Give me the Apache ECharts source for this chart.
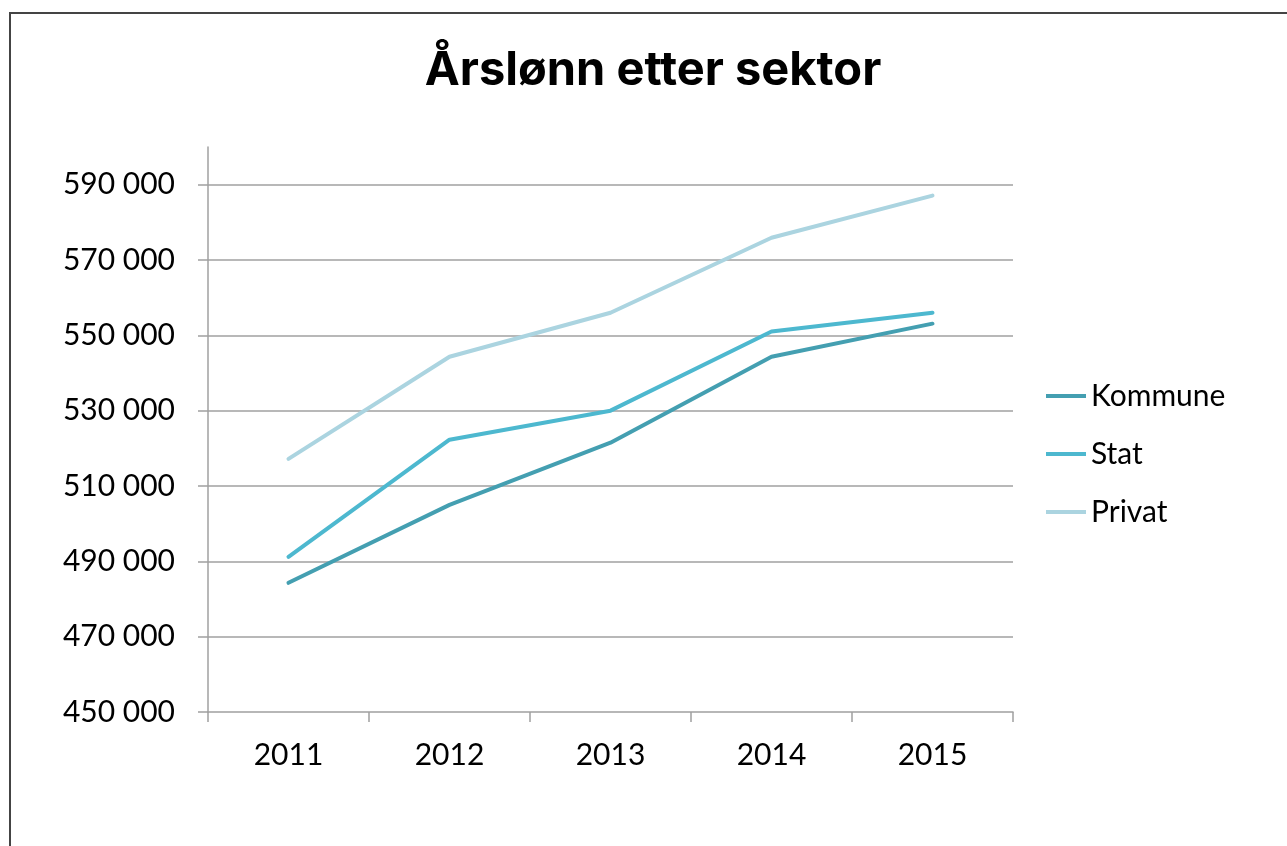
<!DOCTYPE html>
<html>
<head>
<meta charset="utf-8">
<script src="https://cdn.jsdelivr.net/npm/echarts@6/dist/echarts.min.js"></script>
<style>
    body { margin: 0; background: #fff; }
    #chart { width: 1287px; height: 846px; }
</style>
</head>
<body>
<div id="chart"></div>
<script>
// årstall
var years = ['2011', '2012', '2013', '2014', '2015'];
// årslønn per sektor
var kommune = [484300, 505000, 521500, 544300, 553100];
var stat = [491200, 522300, 530000, 551000, 556000];
var privat = [517200, 544300, 556000, 575900, 587100];

var seriesNames = ['Kommune', 'Stat', 'Privat'];
var seriesColors = ['#449fb1', '#4db8cf', '#abd4e0'];

var chart = echarts.init(document.getElementById('chart'));

function fmt(v) {
    return String(v).replace(/\B(?=(\d{3})+(?!\d))/g, ' ');
}

function makeLine(i, data) {
    return {
        name: seriesNames[i],
        type: 'line',
        data: data,
        symbol: 'none',
        smooth: false,
        lineStyle: { width: 4, color: seriesColors[i], cap: 'round' },
        itemStyle: { color: seriesColors[i] }
    };
}

var option = {
    animation: false,
    backgroundColor: '#fff',
    textStyle: { fontFamily: 'Lato' },
    graphic: [{
        type: 'rect',
        shape: { x: 10, y: 13, width: 2000, height: 2000 },
        style: { fill: 'none', stroke: '#444', lineWidth: 2 },
        silent: true
    }],
    title: {
        text: 'Årslønn etter sektor',
        left: 648,
        textAlign: 'center',
        top: 42,
        textStyle: { fontFamily: 'Inter', fontWeight: 'bold', fontSize: 47, color: '#000' }
    },
    legend: {
        orient: 'vertical',
        left: 1046,
        top: 379,
        padding: 0,
        itemWidth: 40,
        itemHeight: 4,
        itemGap: 24,
        icon: 'rect',
        data: seriesNames,
        textStyle: { fontFamily: 'Lato', fontSize: 30, color: '#000', lineHeight: 34 }
    },
    grid: { left: 208, right: 274, top: 147, bottom: 134 },
    xAxis: {
        type: 'category',
        data: years,
        boundaryGap: true,
        axisLine: { lineStyle: { color: '#a0a0a0', width: 1.5 } },
        axisTick: { show: true, length: 10, alignWithLabel: false, lineStyle: { color: '#a0a0a0', width: 1.5 } },
        axisLabel: { fontSize: 30, color: '#000', margin: 28 }
    },
    yAxis: {
        type: 'value',
        min: 450000,
        max: 600000,
        interval: 20000,
        axisLine: { show: true, lineStyle: { color: '#a0a0a0', width: 1.5 } },
        axisTick: { show: true, length: 10, lineStyle: { color: '#a0a0a0', width: 1.5 } },
        axisLabel: { fontSize: 30, color: '#000', margin: 33, showMaxLabel: false, formatter: fmt },
        splitLine: { show: true, showMinLine: false, showMaxLine: false, lineStyle: { color: '#a0a0a0', width: 1.5 } }
    },
    series: [
        makeLine(0, kommune),
        makeLine(1, stat),
        makeLine(2, privat)
    ]
};

chart.setOption(option);
</script>
</body>
</html>
